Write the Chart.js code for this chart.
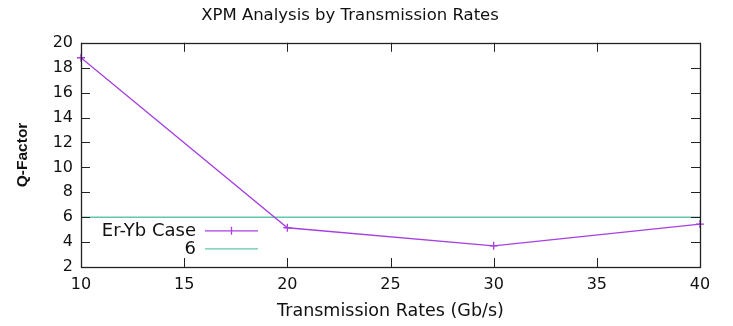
<!DOCTYPE html>
<html>
<head>
<meta charset="utf-8">
<script src="https://cdn.jsdelivr.net/npm/chart.js@4/dist/chart.umd.min.js"></script>
<style>
  html, body { margin: 0; padding: 0; background: #fff; }
  #wrap { width: 733px; height: 326px; }
</style>
</head>
<body>
<div id="wrap"><canvas id="c" width="733" height="326"></canvas></div>
<script>
// Data
const rates = [10, 20, 30, 40];
const erYbQ = [18.8, 5.15, 3.7, 5.45];
const threshold = [6, 6, 6, 6];
const xTicks = [10, 15, 20, 25, 30, 35, 40];
const yTicks = [2, 4, 6, 8, 10, 12, 14, 16, 18, 20];

const FONT = "'DejaVu Sans', Verdana, sans-serif";
const PURPLE = "#a640e0";
const TEAL = "#62c8ad";
const INK = "#222";

// gnuplot-style frame: box with inward ticks, mirrored on top/right
const frame = {
  id: "frame",
  afterDatasetsDraw(chart) {
    const { ctx, chartArea: a, scales } = chart;
    const len = 9;
    ctx.save();
    ctx.strokeStyle = INK;
    ctx.lineWidth = 1;
    ctx.beginPath();
    xTicks.forEach((v) => {
      const x = Math.round(scales.x.getPixelForValue(v)) + 0.5;
      ctx.moveTo(x, a.bottom); ctx.lineTo(x, a.bottom - len);
      ctx.moveTo(x, a.top); ctx.lineTo(x, a.top + len);
    });
    yTicks.forEach((v) => {
      const y = Math.round(scales.y.getPixelForValue(v)) + 0.5;
      ctx.moveTo(a.left, y); ctx.lineTo(a.left + len, y);
      ctx.moveTo(a.right, y); ctx.lineTo(a.right - len, y);
    });
    ctx.stroke();
    ctx.lineWidth = 1.3;
    ctx.strokeRect(Math.round(a.left) + 0.5, Math.round(a.top) + 0.5,
      Math.round(a.right - a.left), Math.round(a.bottom - a.top));
    ctx.restore();
  },
};

// key inside the plot, text right-aligned before the sample line
const key = {
  id: "key",
  afterDraw(chart) {
    const { ctx, chartArea: a } = chart;
    ctx.save();
    ctx.font = "18px " + FONT;
    ctx.textAlign = "right";
    ctx.textBaseline = "middle";
    chart.data.datasets.forEach((ds, i) => {
      const y = a.top + 188 + i * 18;
      const x0 = a.left + 124, x1 = a.left + 177;
      ctx.fillStyle = "#111";
      ctx.fillText(ds.label, a.left + 115, y + 1);
      ctx.strokeStyle = ds.borderColor;
      ctx.lineWidth = 1.3;
      ctx.beginPath();
      ctx.moveTo(x0, y); ctx.lineTo(x1, y);
      if (ds.pointStyle === "cross") {
        const m = (x0 + x1) / 2;
        ctx.moveTo(m, y - 4); ctx.lineTo(m, y + 4);
      }
      ctx.stroke();
    });
    ctx.restore();
  },
};

new Chart(document.getElementById("c"), {
  type: "line",
  data: {
    datasets: [
      {
        label: "Er-Yb Case",
        data: rates.map((r, i) => ({ x: r, y: erYbQ[i] })),
        borderColor: PURPLE,
        backgroundColor: PURPLE,
        borderWidth: 1.3,
        pointStyle: "cross",
        pointRadius: 4,
        pointBorderWidth: 1.3,
        tension: 0,
        clip: false,
      },
      {
        label: "6",
        data: rates.map((r, i) => ({ x: r, y: threshold[i] })),
        borderColor: TEAL,
        backgroundColor: TEAL,
        borderWidth: 1.5,
        pointRadius: 0,
        tension: 0,
      },
    ],
  },
  options: {
    responsive: false,
    animation: false,
    layout: { padding: { left: 0, right: 33, top: 0, bottom: 0 } },
    plugins: {
      legend: { display: false },
      tooltip: { enabled: false },
      title: {
        display: true,
        text: "XPM Analysis by Transmission Rates",
        color: "#111",
        font: { family: FONT, size: 16.5, weight: "normal", lineHeight: 1.2 },
        padding: { top: 6, bottom: 17 },
      },
    },
    scales: {
      x: {
        type: "linear",
        min: 10,
        max: 40,
        afterBuildTicks: (s) => { s.ticks = xTicks.map((v) => ({ value: v })); },
        afterFit: (s) => { s.height = 59; },
        grid: { display: false, drawTicks: false },
        border: { display: false },
        ticks: { color: "#111", font: { family: FONT, size: 16 }, padding: 8 },
        title: {
          display: true,
          text: "Transmission Rates (Gb/s)",
          color: "#111",
          font: { family: FONT, size: 17.5 },
          padding: { top: 8 },
        },
      },
      y: {
        type: "linear",
        min: 2,
        max: 20,
        afterBuildTicks: (s) => { s.ticks = yTicks.map((v) => ({ value: v })); },
        afterFit: (s) => { s.width = 81; },
        grid: { display: false, drawTicks: false },
        border: { display: false },
        ticks: { color: "#111", font: { family: FONT, size: 16 }, padding: 8 },
        title: {
          display: true,
          text: "Q-Factor",
          color: "#111",
          font: { family: "'Liberation Sans', Arial, sans-serif", size: 15.5, weight: "bold" },
          padding: { top: 13, bottom: 4 },
        },
      },
    },
  },
  plugins: [frame, key],
});
</script>
</body>
</html>
